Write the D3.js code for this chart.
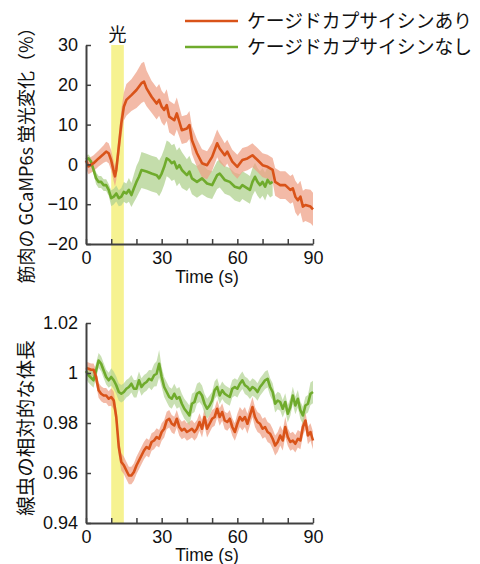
<!DOCTYPE html>
<html><head><meta charset="utf-8">
<script src="https://cdn.jsdelivr.net/npm/d3@7/dist/d3.min.js"></script>
<style>body{margin:0;background:#fff}svg{display:block}</style>
</head><body>
<script>
// ---------- DATA ----------
const seriesNames = ["ケージドカプサイシンあり", "ケージドカプサイシンなし"];
const lightOn = [10, 15];
const xTicks = [0, 10, 20, 30, 40, 50, 60, 70, 80, 90];
const xLabelTicks = [0, 30, 60, 90];
const topYTicks = [-20, -10, 0, 10, 20, 30];
const botYTicks = [0.94, 0.96, 0.98, 1.0, 1.02];

// Top panel: GCaMP6s fluorescence change (%)
const topOrangeT = [0,1,3,5,7,8,9,10,11,11.5,12,13,14,15,16,18,20,22,23,24,26,28,29,30,31,32,33,35,36,38,40,41,42,44,46,48,50,52,53,55,56,58,60,62,64,66,68,70,72,74,75,77,79,81,82,83,84,85,86,87,89,90];
const topOrangeV = [1,-0.5,0.3,1.5,2.6,3.2,2.8,1,-1.8,-3,-1.4,4.4,10.3,14.5,16.2,17.4,18.7,20.4,20.8,19.1,17,15.3,16.2,14.5,13.7,14.9,12,11.1,12.8,8.6,9,9.9,6.1,2.8,0.3,-0.2,1.9,5.3,4,2.3,3.2,0.7,-0.6,1.1,1.5,2.3,1.1,-0.2,-0.6,-1.4,-4.4,-5.2,-5.2,-6.4,-6,-8.1,-9,-8.1,-10.6,-10.2,-10.6,-11.3];
const topOrangeE = [2,2,2,2,2.2,2.5,2.5,2.5,2.5,2.5,2.5,3,3.5,3.5,4,4,4.5,5,5,4.5,4,4,4,4,4,4,4,4,4,3.5,3.5,3.5,3.5,3.5,3.5,3.5,3.5,3.5,3.5,3,3,3,3,3,3,3,3,3,3,3,3.5,3.5,3.5,3.5,3.5,4,4,4,4,4,4.2,4.2];

const topGreenT = [0,1,2,3,4,5,6,7,8,9,10,11,12,13,14,15,16,17,18,19,20,21,22,24,26,28,29,30,31,32,33,34,35,36,37,38,40,41,42,44,46,48,50,52,53,55,57,59,61,62,64,65,66,67,68,69,70,71,72,73,74];
const topGreenV = [1.3,1.5,0.7,-1.4,-3.5,-4.4,-4.4,-5.2,-5.2,-6.4,-8.5,-8.1,-7.3,-8.5,-8.1,-6.9,-7.3,-6.4,-7.7,-6,-4.4,-3.1,-1.4,-1.8,-2.3,-2.7,-3.5,-2.3,-0.6,1.5,1.1,0.3,0.7,-1,-0.2,-1.4,-2.7,-1.8,-3.5,-4.4,-3.5,-4.8,-5.2,-2.7,-2.3,-3.9,-4.4,-5.6,-6,-5.2,-6,-6.4,-4.4,-3.1,-4.4,-5.2,-4.4,-5.6,-3.9,-4.8,-4.4];
const topGreenE = [1,1,1,1,1.5,1.5,1.5,1.5,1.5,1.5,2,2,2,2,2.2,2.5,2.5,3,3,3.5,4,4,4.5,4.5,4.5,4.5,4.5,4.5,4.5,4.5,4.5,4.5,4.5,4.5,4.5,4.5,4,4,4,4,4,3.5,3.5,3.5,3.5,3.5,3.5,3.5,3.5,3.5,3.5,3.5,3.5,3.5,3.5,3.5,3.5,3.5,3.5,3.5,3.5];

// Bottom panel: relative body length (t = 0..90 s, 1 s steps)
const botT = d3.range(0, 91, 1);
const botOrangeV = [1.002,1.0017,1.0013,1.0013,0.9984,0.9931,0.9917,0.991,0.991,0.9897,
  0.9904,0.989,0.9824,0.9704,0.9644,0.9631,0.961,0.959,0.959,0.9604,
  0.963,0.965,0.967,0.969,0.9704,0.9697,0.9724,0.973,0.9744,0.9737,
  0.9764,0.9777,0.981,0.9817,0.9797,0.979,0.9817,0.9784,0.977,0.9777,
  0.9764,0.977,0.9777,0.9764,0.9777,0.9804,0.9777,0.9824,0.9777,0.9797,
  0.9817,0.9824,0.9857,0.9824,0.9844,0.981,0.9804,0.9817,0.9784,0.9764,
  0.9797,0.9824,0.981,0.9824,0.9797,0.983,0.9864,0.9824,0.9804,0.9797,
  0.9777,0.9784,0.9764,0.9757,0.9737,0.971,0.9724,0.975,0.973,0.9784,
  0.9744,0.9724,0.973,0.9717,0.9737,0.973,0.9784,0.981,0.975,0.9764,
  0.973];
const botOrangeE = [0.0025,0.0025,0.0025,0.0025,0.003,0.003,0.003,0.003,0.003,0.003,
  0.0035,0.0035,0.0035,0.0035,0.0035,0.0035,0.0035,0.0035,0.0035,0.0035,
  0.0035,0.0035,0.0035,0.0035,0.0035,0.0035,0.0035,0.0035,0.0035,0.0035,
  0.0035,0.0035,0.0035,0.0035,0.0035,0.0035,0.0035,0.0035,0.0035,0.0035,
  0.0035,0.0035,0.0035,0.0035,0.0035,0.0035,0.0035,0.0035,0.0035,0.0035,
  0.0035,0.0035,0.0035,0.0035,0.0035,0.0035,0.0035,0.0035,0.0035,0.0035,
  0.004,0.004,0.004,0.004,0.004,0.004,0.004,0.004,0.004,0.004,
  0.004,0.004,0.004,0.004,0.004,0.004,0.004,0.004,0.004,0.004,
  0.0035,0.0035,0.0035,0.0035,0.0035,0.0035,0.0035,0.0035,0.0035,0.0035,
  0.0035];
const botGreenV = [1.0008,0.9991,0.9981,0.9971,1.001,1.005,1.0037,1.001,0.9984,0.9971,
  0.9984,0.9971,0.9951,0.9924,0.9917,0.9924,0.9937,0.9944,0.9957,0.9937,
  0.9937,0.9971,0.9944,0.9957,0.9964,0.9977,0.9971,0.9991,0.9997,1.0037,
  0.9984,0.9944,0.9924,0.9904,0.9897,0.9917,0.9897,0.9904,0.9877,0.9857,
  0.9844,0.983,0.9877,0.9884,0.9917,0.9924,0.991,0.9877,0.9857,0.987,
  0.989,0.9931,0.9944,0.991,0.9931,0.9917,0.991,0.9904,0.9937,0.9944,
  0.9937,0.9957,0.9971,0.9951,0.9944,0.9931,0.9944,0.9937,0.9924,0.9944,
  0.9957,0.9971,0.9977,0.9944,0.9924,0.9877,0.989,0.9884,0.9857,0.9884,
  0.9837,0.9864,0.991,0.987,0.9897,0.9851,0.983,0.987,0.9877,0.9917,
  0.9924];
const botGreenE = [0.003,0.003,0.003,0.003,0.003,0.003,0.003,0.003,0.003,0.003,
  0.0035,0.0035,0.0035,0.0035,0.0035,0.0035,0.0035,0.0035,0.0035,0.0035,
  0.0035,0.0035,0.0035,0.0035,0.0035,0.0035,0.004,0.0045,0.005,0.0055,
  0.004,0.004,0.004,0.004,0.004,0.004,0.004,0.004,0.004,0.004,
  0.004,0.004,0.004,0.004,0.004,0.004,0.004,0.004,0.004,0.004,
  0.0035,0.0035,0.0035,0.0035,0.0035,0.0035,0.0035,0.0035,0.0035,0.0035,
  0.0035,0.0035,0.0035,0.0035,0.0035,0.0035,0.0035,0.0035,0.0035,0.0035,
  0.0035,0.0035,0.0035,0.0035,0.0035,0.0035,0.0035,0.0035,0.0035,0.0035,
  0.0035,0.0035,0.0035,0.0035,0.0035,0.0035,0.0035,0.0035,0.0035,0.0045,
  0.0045];

// ---------- STYLE ----------
const ORANGE = "#d95319", GREEN = "#6fab2c";
const ORANGE_BAND = "#ee9f85", GREEN_BAND = "#b0d28f";
const YELLOW = "#f6f291";
const AXIS = "#404040";
const NUM_FONT = "'Liberation Sans', Arial, sans-serif";
const JP_FONT = "'Noto Sans CJK JP', 'Noto Sans', sans-serif";

const W = 480, H = 564;
const svg = d3.select("body").append("svg").attr("width", W).attr("height", H);

const x = d3.scaleLinear().domain([0, 90]).range([86, 313]);
const yTop = d3.scaleLinear().domain([-20, 30]).range([244, 45]);
const yBot = d3.scaleLinear().domain([0.94, 1.02]).range([523, 323]);

// Light stimulus band (spans both panels)
svg.append("rect")
  .attr("x", x(lightOn[0])).attr("width", x(lightOn[1]) - x(lightOn[0]))
  .attr("y", yTop(30)).attr("height", yBot(0.94) - yTop(30))
  .attr("fill", YELLOW);

svg.append("text").text("光")
  .attr("x", (x(lightOn[0]) + x(lightOn[1])) / 2).attr("y", 41)
  .attr("text-anchor", "middle").attr("font-family", JP_FONT).attr("font-size", 18).attr("fill", "#111");

function drawSeries(T, V, E, y, bandColor, bandOp) {
  const pts = T.map((t, i) => ({t, v: V[i], e: E[i]}));
  svg.append("path").datum(pts)
    .attr("d", d3.area().x(d => x(d.t)).y0(d => y(d.v - d.e)).y1(d => y(d.v + d.e)))
    .attr("fill", bandColor).attr("fill-opacity", bandOp);
  return pts;
}
function drawLine(pts, y, color) {
  svg.append("path").datum(pts)
    .attr("d", d3.line().x(d => x(d.t)).y(d => y(d.v)))
    .attr("fill", "none").attr("stroke", color).attr("stroke-width", 2.6).attr("stroke-linejoin", "round");
}

// Top panel
const tg = drawSeries(topGreenT, topGreenV, topGreenE, yTop, GREEN_BAND, 0.75);
const to = drawSeries(topOrangeT, topOrangeV, topOrangeE, yTop, ORANGE_BAND, 0.72);
drawLine(tg, yTop, GREEN);
drawLine(to, yTop, ORANGE);

// Bottom panel
const bo = drawSeries(botT, botOrangeV, botOrangeE, yBot, ORANGE_BAND, 0.72);
const bg = drawSeries(botT, botGreenV, botGreenE, yBot, GREEN_BAND, 0.68);
drawLine(bg, yBot, GREEN);
drawLine(bo, yBot, ORANGE);

// Axes
function styleAxis(g) {
  g.select(".domain").attr("stroke", AXIS).attr("stroke-width", 2);
  g.selectAll(".tick line").attr("stroke", AXIS).attr("stroke-width", 1.5);
  g.selectAll("text").attr("font-family", NUM_FONT).attr("font-size", 18).attr("fill", "#111");
}
function xAxis(yPos) {
  const g = svg.append("g").attr("transform", `translate(0,${yPos})`)
    .call(d3.axisBottom(x).tickValues(xTicks).tickSizeInner(-5).tickSizeOuter(0).tickPadding(7)
      .tickFormat(d => xLabelTicks.includes(d) ? d3.format("d")(d) : ""));
  styleAxis(g);
}
function yAxis(y, ticks, fmt) {
  const g = svg.append("g").attr("transform", `translate(${x(0)},0)`)
    .call(d3.axisLeft(y).tickValues(ticks).tickSizeInner(-5).tickSizeOuter(0).tickPadding(8).tickFormat(fmt));
  styleAxis(g);
}
xAxis(yTop(-20));
yAxis(yTop, topYTicks, d3.format("d"));
xAxis(yBot(0.94));
yAxis(yBot, botYTicks, d => d === 1 ? "1" : d3.format(".2f")(d));

// Axis titles
svg.append("text").text("Time (s)").attr("x", 207).attr("y", 283)
  .attr("text-anchor", "middle").attr("font-family", NUM_FONT).attr("font-size", 17.5).attr("fill", "#111");
svg.append("text").text("Time (s)").attr("x", 207).attr("y", 561)
  .attr("text-anchor", "middle").attr("font-family", NUM_FONT).attr("font-size", 17.5).attr("fill", "#111");

svg.append("text").text("筋肉の GCaMP6s 蛍光変化（%）")
  .attr("transform", "translate(25,151) rotate(-90)")
  .attr("text-anchor", "middle").attr("dominant-baseline", "central")
  .attr("font-family", JP_FONT).attr("font-size", 18).attr("fill", "#111");
svg.append("text").text("線虫の相対的な体長")
  .attr("transform", "translate(24,428) rotate(-90)")
  .attr("text-anchor", "middle").attr("dominant-baseline", "central")
  .attr("font-family", JP_FONT).attr("font-size", 19.5).attr("fill", "#111");

// Legend
const legColors = [ORANGE, GREEN];
seriesNames.forEach((name, i) => {
  const ly = 21 + i * 26;
  svg.append("line").attr("x1", 185).attr("x2", 238).attr("y1", ly).attr("y2", ly)
    .attr("stroke", legColors[i]).attr("stroke-width", 2.5);
  svg.append("text").text(name).attr("x", 247).attr("y", ly).attr("dy", "0.36em")
    .attr("font-family", JP_FONT).attr("font-size", 18.8).attr("fill", "#111");
});
</script>
</body></html>
